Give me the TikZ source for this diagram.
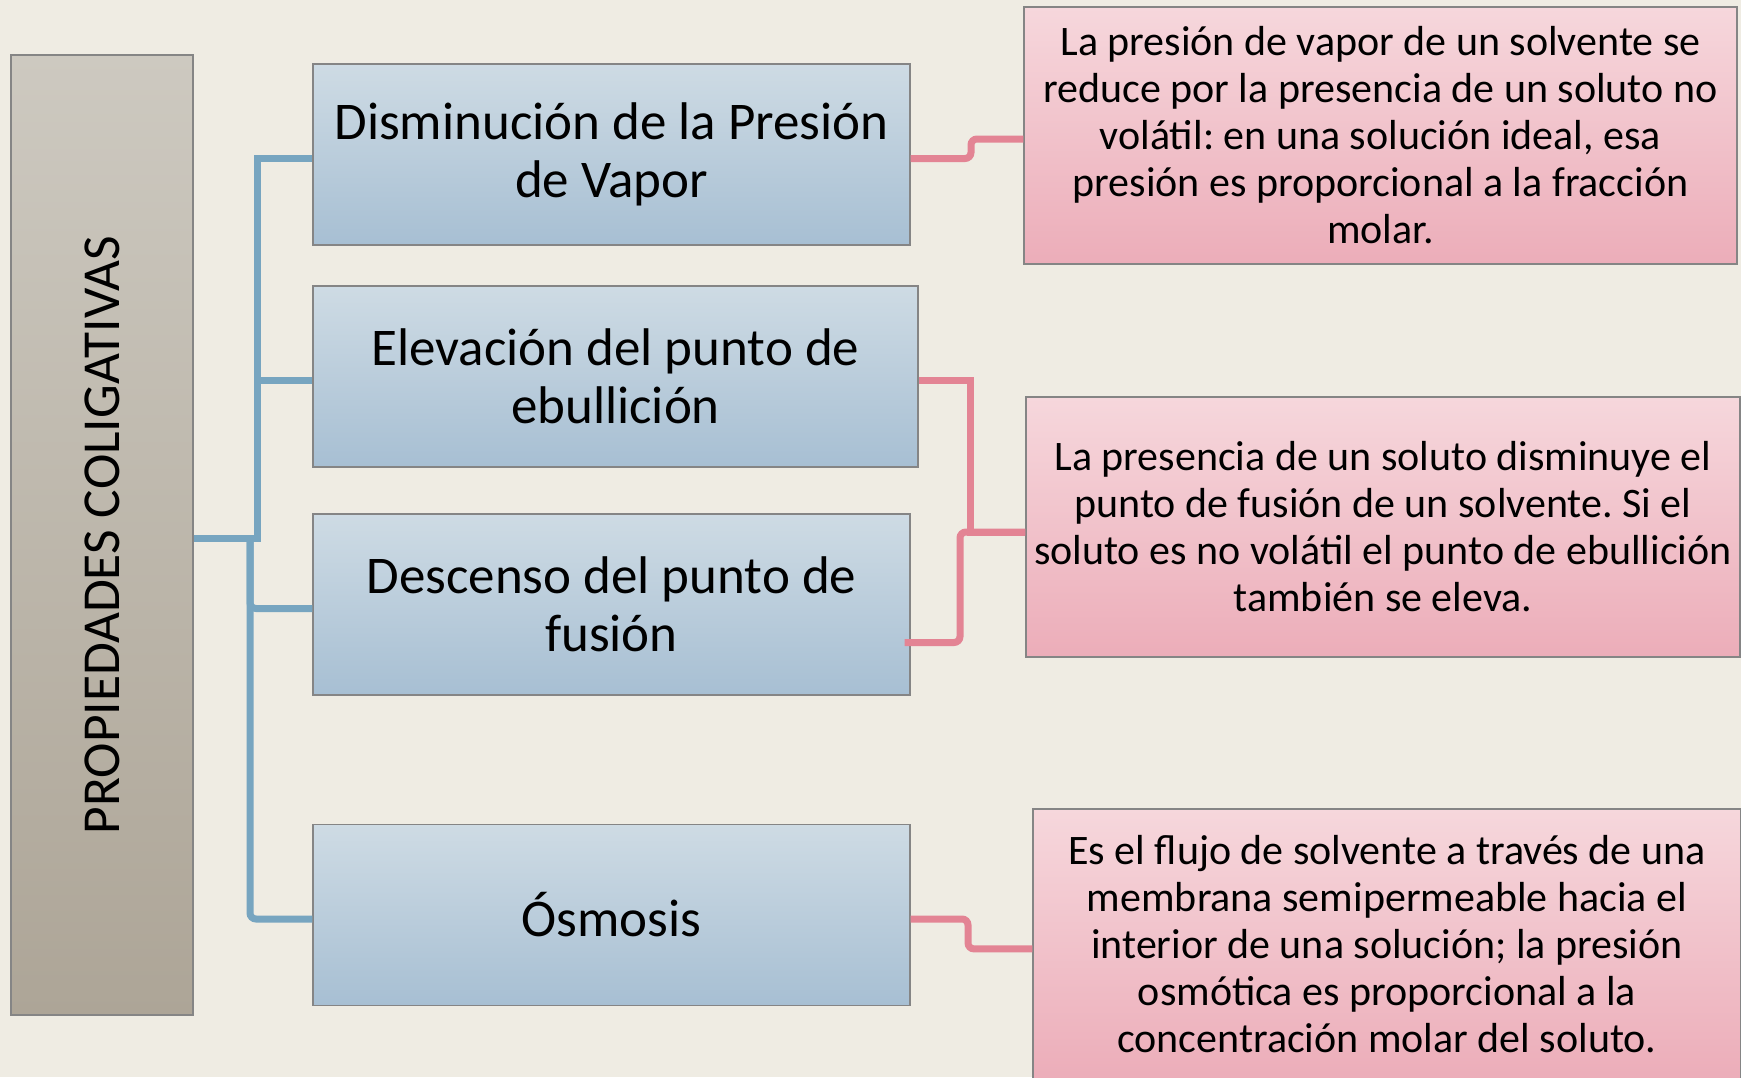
\documentclass[tikz,border=0pt]{standalone}
\usepackage{fontspec}
\setmainfont{Carlito}
\usetikzlibrary{calc,positioning}
\definecolor{fondo}{HTML}{EFECE3}
\definecolor{grisA}{HTML}{CDC9C0}
\definecolor{grisB}{HTML}{ADA597}
\definecolor{azulA}{HTML}{CEDBE4}
\definecolor{azulB}{HTML}{A7BFD3}
\definecolor{rosaA}{HTML}{F6D7DC}
\definecolor{rosaB}{HTML}{ECADB9}
\definecolor{azulL}{HTML}{77A5C0}
\definecolor{rosaL}{HTML}{E38494}
\definecolor{borde}{HTML}{858585}

\begin{document}
\frenchspacing
\begin{tikzpicture}[x=0.5pt,y=-0.5pt,{titulo/.style={rectangle,draw=borde,line width=0.7pt,top color=grisA,bottom color=grisB,inner sep=0pt,minimum width=91pt,minimum height=480pt}},{caja/.style={rectangle,draw=borde,line width=0.7pt,top color=azulA,bottom color=azulB,inner sep=0pt,minimum height=90.5pt,align=center,font=\fontsize{26.5}{29}\selectfont}},{nota/.style={rectangle,draw=borde,line width=0.6pt,top color=rosaA,bottom color=rosaB,inner sep=0pt,align=center,font=\fontsize{21}{23.5}\selectfont}},{rama/.style={draw=azulL,line width=3.5pt}},{enlace/.style={draw=rosaL,line width=3.5pt}}]
		%fondo
		\fill [fondo] (0,0) rectangle (1741,1077);
		\useasboundingbox (0,0) rectangle (1741,1077);
		%%titulo
		\node at (102,535) [titulo] (prop) {};
		\node at (prop.center) [rotate=90,font=\fontsize{26.7}{29}\selectfont] (propt) {PROPIEDADES COLIGATIVAS};
		%%propiedades
		\node at (611.5,154.5) [caja,minimum width=298.5pt] (dism) {Disminución de la Presión\\de Vapor};
		\node at (615.5,376.5) [caja,minimum width=302.5pt] (elev) {Elevación del punto de\\ebullición};
		\node at (611.5,604.5) [caja,minimum width=298.5pt] (desc) {Descenso del punto de\\fusión};
		\node at (611.5,915) [caja,minimum width=298.5pt] (osmo) {Ósmosis};
		%%explicaciones
		\node at (1380.5,135.5) [nota,minimum width=356.5pt,minimum height=128.5pt] (txt1) {La presión de vapor de un solvente se\\reduce por la presencia de un soluto no\\volátil: en una solución ideal, esa\\presión es proporcional a la fracción\\molar.};
		\node at (1383,527) [nota,minimum width=357pt,minimum height=130pt] (txt2) {La presencia de un soluto disminuye el\\punto de fusión de un solvente. Si el\\soluto es no volátil el punto de ebullición\\también se eleva.};
		\node at (1387,944.5) [nota,minimum width=354pt,minimum height=135.5pt] (txt3) {Es el flujo de solvente a través de una\\membrana semipermeable hacia el\\interior de una solución; la presión\\osmótica es proporcional a la\\concentración molar del soluto.};
		%%uniones
		\coordinate (nudo) at (257,538);
		\coordinate (nudo2) at (250,538);
		\draw [rama] ([yshift=-1.5pt]prop.east) -- (nudo) |- ([yshift=-2pt]dism.west);
		\draw [rama] (nudo) |- ([yshift=-2pt]elev.west);
		\draw [rama,rounded corners=3pt] (nudo2) |- ([yshift=-2pt]desc.west);
		\draw [rama,rounded corners=3pt] (nudo2) |- ([yshift=-2pt]osmo.west);
		%%enlaces
		\coordinate (c1) at (971,0);
		\coordinate (c2) at (970,0);
		\coordinate (c3) at (960,0);
		\coordinate (c4) at (968,0);
		\draw [enlace,rounded corners=3pt] ([yshift=-2pt]dism.east) -- ([yshift=-2pt]dism.east -| c1) |- ([yshift=-1.75pt]txt1.west);
		\draw [enlace] ([yshift=-2pt]elev.east) -- ([yshift=-2pt]elev.east -| c2) |- ([yshift=-2.5pt]txt2.west);
		\draw [enlace,rounded corners=3pt] ([shift={(-6,38)}]desc.east) -| ([yshift=-2.5pt]c3 |- txt2.west) -- ([yshift=-2.5pt]txt2.west);
		\draw [enlace,rounded corners=3pt] ([yshift=-2pt]osmo.east) -- ([yshift=-2pt]osmo.east -| c4) |- ([yshift=-2.2pt]txt3.west);
	\end{tikzpicture}
\end{document}
